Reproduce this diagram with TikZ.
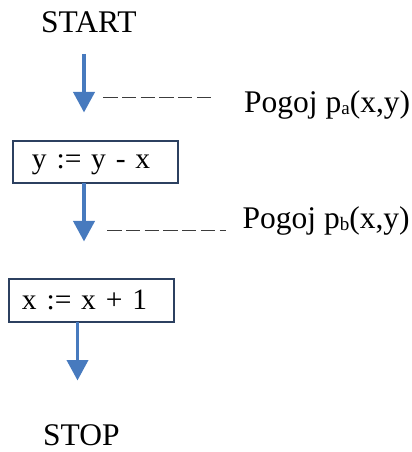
\documentclass[tikz,border=0pt]{standalone}
\usepackage{fontspec}
\setmainfont{Liberation Serif}
\usetikzlibrary{arrows.meta}
\definecolor{arrowblue}{RGB}{71,122,190}
\definecolor{boxnavy}{RGB}{44,64,96}
\definecolor{dashgray}{RGB}{60,60,60}
\newcommand{\subtxt}[1]{{\fontsize{19bp}{19bp}\selectfont\raisebox{-2bp}{#1}}}
\begin{document}
\begin{tikzpicture}[x=1bp,y=-1bp,
  lbl/.style={inner sep=0pt,anchor=base west,font=\fontsize{31.5bp}{36bp}\selectfont},
  stmt/.style={draw=boxnavy,line width=2bp,rectangle,minimum width=165bp,
    font=\fontsize{29.5bp}{36bp}\selectfont,align=left,inner ysep=0pt},
  flow/.style={draw=arrowblue,line width=3.8bp,
    -{Triangle[width=21bp,length=20.5bp]}},
  cond/.style={draw=dashgray,line width=1.3bp,dash pattern=on 14.3bp off 4.4bp}]
\useasboundingbox (0,0) rectangle (411,452);
% texts
\node[lbl] (start) at (41,33) {START};
\node[lbl] (stop) at (43,445) {STOP};
\node[lbl] (pa) at (244,113) {Pogoj p\subtxt{a}(x,y)};
\node[lbl] (pb) at (242.5,228) {Pogoj p\subtxt{b}(x,y)};
% statement boxes
\node[stmt,minimum height=42bp,inner xsep=19bp,text width=127bp,
  text height=20bp,text depth=6bp] (box1) at (95.5,162) {y := y - x};
\node[stmt,minimum height=43bp,inner xsep=13bp,text width=139bp,
  text height=22bp,text depth=5bp] (box2) at (91.5,300.5) {x := x + 1};
% connector end points
\coordinate (a1s) at (84,54);
\coordinate (a1e) at (84,112.5);
\coordinate (a2s) at (84,183);
\coordinate (a2e) at (84,241.5);
\coordinate (a3s) at (77.5,322);
\coordinate (a3e) at (77.5,380.5);
\coordinate (d1s) at (103.3,97.5);
\coordinate (d1e) at (211,97.5);
\coordinate (d2s) at (107.3,230.5);
\coordinate (d2e) at (226,230.5);
% arrows
\draw[flow] (a1s) -- (a1e);
\draw[flow] (a2s) -- (a2e);
\draw[flow] (a3s) -- (a3e);
% dashed condition lines
\draw[cond] (d1s) -- (d1e);
\draw[cond] (d2s) -- (d2e);
\end{tikzpicture}
\end{document}
